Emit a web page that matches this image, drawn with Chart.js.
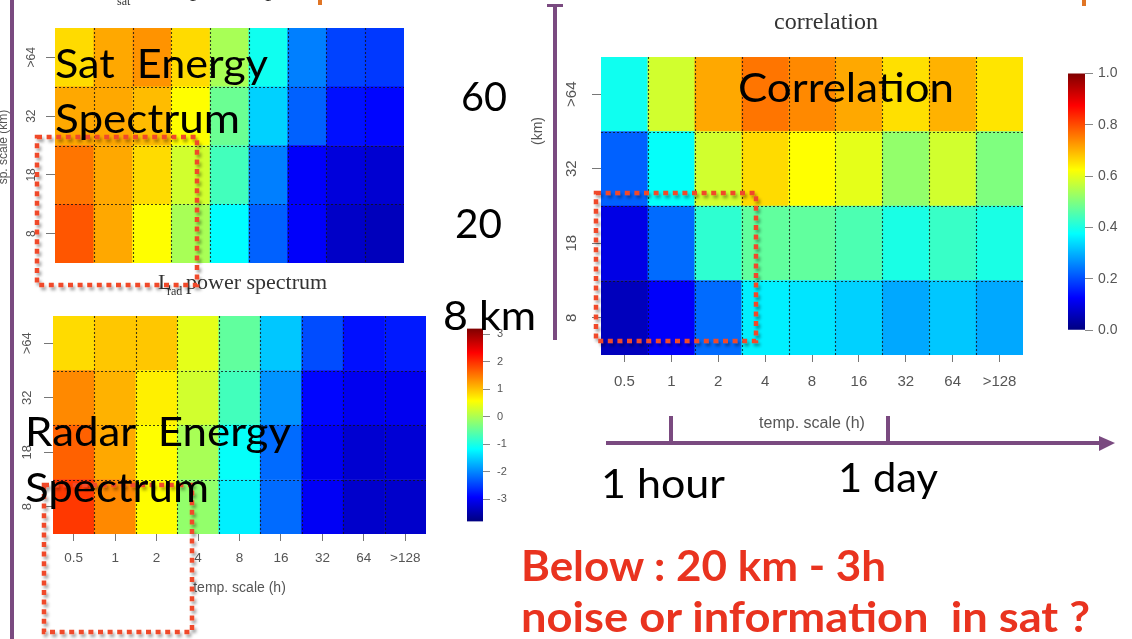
<!DOCTYPE html>
<html><head><meta charset="utf-8">
<script src="https://cdn.jsdelivr.net/npm/chart.js@4.4.1/dist/chart.umd.min.js"></script>
<style>
html,body{margin:0;padding:0;background:#fff}
body{width:1132px;height:639px;overflow:hidden;position:relative}
canvas{position:absolute}
#ov{position:absolute;left:0;top:0}
</style></head><body>
<canvas id="sat" width="415" height="268" style="left:0;top:0"></canvas>
<canvas id="rad" width="440" height="340" style="left:0;top:270px"></canvas>
<canvas id="cor" width="520" height="440" style="left:520px;top:0"></canvas>
<canvas id="cbE" width="70" height="220" style="left:455px;top:315px"></canvas>
<canvas id="cbC" width="77" height="285" style="left:1055px;top:60px"></canvas>
<svg id="ov" width="1132" height="639" xmlns="http://www.w3.org/2000/svg">
  <defs>
    <filter id="sh" x="-10%" y="-10%" width="130%" height="130%">
      <feDropShadow dx="2" dy="3" stdDeviation="1.6" flood-color="#000" flood-opacity="0.35"/>
    </filter>
  </defs>
  <g fill="#7A4A80">
    <rect x="10" y="0" width="4" height="639"/>
    <rect x="553" y="6" width="4" height="334"/>
    <rect x="547" y="4" width="16" height="3"/>
    <rect x="606" y="441" width="496" height="4"/>
    <polygon points="1099,436 1115,443 1099,451"/>
    <rect x="669" y="416" width="4" height="27"/>
    <rect x="886" y="416" width="4" height="27"/>
  </g>
  <g fill="#E07525">
    <rect x="318" y="0" width="4" height="5"/>
    <rect x="1082" y="0" width="4" height="6"/>
  </g>
  <g fill="none" stroke="#F04A2B" stroke-width="4.5" stroke-dasharray="5 4.6" filter="url(#sh)">
    <rect x="37" y="137" width="160" height="148"/>
    <rect x="44" y="485" width="148" height="147"/>
    <rect x="596" y="193" width="160" height="148"/>
  </g>
  <g id="txt" font-family="Lato"></g>
</svg>
<script>
// ---------------- data ----------------
const timeScales  = ['0.5','1','2','4','8','16','32','64','>128'];   // temp. scale (h)
const spaceScales = ['8','18','32','>64'];                            // sp. scale (km), bottom to top
const energyTicks = [-3,-2,-1,0,1,2,3];
const corrTicks   = [0,0.2,0.4,0.6,0.8,1.0];
const energyRange = [-3.8, 3.2];
const corrRange   = [0, 1];

// L_sat power spectrum (log energy)
const sat8  = [1.73, 1.17, 0.58, -0.02, -1.18, -2.26, -2.96, -3.31, -3.38];
const sat18 = [1.52, 1.17, 0.82,  0.26, -0.72, -2.05, -2.96, -3.17, -3.24];
const sat32 = [1.17, 1.17, 1.03,  0.58, -0.44, -1.49, -2.26, -2.82, -2.89];
const sat64 = [0.82, 1.17, 1.31,  0.82, -0.02, -1.07, -2.05, -2.47, -2.54];

// L_rad power spectrum (log energy)
const rad8  = [1.94, 1.38, 0.58, -0.16, -1.28, -2.19, -2.99, -3.28, -3.28];
const rad18 = [1.66, 1.17, 0.58, -0.02, -1.14, -2.19, -3.03, -3.24, -3.21];
const rad32 = [1.38, 1.10, 0.68,  0.26, -0.72, -1.91, -2.89, -3.03, -3.03];
const rad64 = [0.82, 0.96, 0.96,  0.40, -0.51, -1.56, -2.40, -2.82, -2.75];

// correlation
const cor8  = [0.06, 0.12, 0.23, 0.36, 0.35, 0.33, 0.29, 0.32, 0.29];
const cor18 = [0.10, 0.23, 0.42, 0.47, 0.47, 0.45, 0.40, 0.43, 0.40];
const cor32 = [0.22, 0.38, 0.58, 0.66, 0.625, 0.60, 0.52, 0.58, 0.50];
const cor64 = [0.39, 0.58, 0.71, 0.76, 0.74, 0.71, 0.655, 0.70, 0.65];

// ---------------- colour map (jet) ----------------
const JET = [[0,0,127],[0,0,255],[0,127,255],[0,255,255],[127,255,127],[255,255,0],[255,127,0],[255,0,0],[127,0,0]];
function jet(t){
  t = Math.max(0, Math.min(1, t));
  const p = t*8, i = Math.min(7, Math.floor(p)), f = p - i, a = JET[i], b = JET[i+1];
  return 'rgb(' + a.map((v,k)=>Math.round(v + (b[k]-v)*f)).join(',') + ')';
}

const GRAY = '#555';
const AXF = 'Liberation Sans, Arial, sans-serif';

// ---------------- plugin: dotted cell grid, rotated y labels, extra text ----------------
const heatPlugin = {
  id: 'heat',
  afterDatasetsDraw(chart){
    const {ctx, chartArea:a, scales:{x, y}} = chart;
    ctx.save();
    ctx.setLineDash([2,2]);
    ctx.strokeStyle = 'rgba(20,20,20,0.8)';
    ctx.lineWidth = 1.1;
    ctx.beginPath();
    for (let i = 1; i < timeScales.length; i++){
      const px = Math.round((x.getPixelForValue(i-1) + x.getPixelForValue(i))/2) + 0.5;
      ctx.moveTo(px, a.top); ctx.lineTo(px, a.bottom);
    }
    for (let j = 1; j < spaceScales.length; j++){
      const py = Math.round(y.getPixelForValue(j)) + 0.5;
      ctx.moveTo(a.left, py); ctx.lineTo(a.right, py);
    }
    ctx.stroke();
    ctx.restore();
  },
  afterDraw(chart, args, o){
    const {ctx, chartArea:a, scales:{y}} = chart;
    ctx.save();
    ctx.fillStyle = GRAY;
    ctx.font = o.yFont + 'px ' + AXF;
    ctx.textAlign = 'center'; ctx.textBaseline = 'middle';
    spaceScales.forEach((lab, j) => {
      ctx.save();
      ctx.translate(a.left - o.labelDX, y.getPixelForValue(j + 0.5));
      ctx.rotate(-Math.PI/2);
      ctx.fillText(lab, 0, 0);
      ctx.restore();
    });
    (o.texts || []).forEach(t => {
      ctx.save();
      ctx.fillStyle = t.color || '#333';
      ctx.font = t.font;
      ctx.textAlign = t.align || 'left';
      ctx.textBaseline = 'alphabetic';
      ctx.translate(t.x, t.y);
      if (t.rot) ctx.rotate(-Math.PI/2);
      ctx.fillText(t.text, 0, 0);
      ctx.restore();
    });
    ctx.restore();
  }
};

function heatmap(id, rows, range, o){
  const [zmin, zmax] = range;
  return new Chart(document.getElementById(id), {
    type: 'bar',
    data: {
      labels: timeScales,
      datasets: rows.map((vals, r) => ({
        data: vals.map(() => [r, r + 1]),
        backgroundColor: vals.map(v => jet((v - zmin)/(zmax - zmin))),
        borderWidth: 0, borderSkipped: false, grouped: false,
        barPercentage: 1, categoryPercentage: 1
      }))
    },
    options: {
      responsive: false, animation: false, events: [],
      layout: {padding: o.pad},
      plugins: {legend: {display: false}, tooltip: {enabled: false}, heat: o.heat},
      scales: {
        x: {
          offset: true, border: {display: false},
          grid: {drawOnChartArea: false, drawTicks: o.xTicks, tickLength: 7, color: '#777', offset: false},
          ticks: {display: o.xTicks, color: GRAY, font: {family: AXF, size: o.xFont}, padding: o.xPad, maxRotation: 0, autoSkip: false},
          title: {display: o.xTicks, text: 'temp. scale (h)', color: GRAY, font: {family: AXF, size: o.xTitleFont}, padding: {top: 0, bottom: o.xTitlePad}},
          afterFit: s => { s.height = o.xH; }
        },
        y: {
          min: 0, max: spaceScales.length, border: {display: false},
          grid: {drawOnChartArea: false, tickLength: o.yTickLen, color: '#777'},
          ticks: {display: false},
          afterBuildTicks: s => { s.ticks = spaceScales.map((_, i) => ({value: i + 0.5})); },
          afterFit: s => { s.width = o.yW; }
        }
      }
    },
    plugins: [heatPlugin]
  });
}

function colorbar(id, range, ticks, o){
  const [zmin, zmax] = range;
  return new Chart(document.getElementById(id), {
    type: 'bar',
    data: {labels: [''], datasets: [{
      data: [[zmin, zmax]],
      backgroundColor: c => {
        const ch = c.chart, y = ch.scales.y;
        if (!ch.chartArea || !y) return 'rgba(0,0,0,0)';
        const g = ch.ctx.createLinearGradient(0, y.getPixelForValue(zmin), 0, y.getPixelForValue(zmax));
        for (let i = 0; i <= 40; i++) g.addColorStop(i/40, jet(i/40));
        return g;
      },
      borderWidth: 0, barPercentage: 1, categoryPercentage: 1
    }]},
    options: {
      responsive: false, animation: false, events: [],
      layout: {padding: o.pad},
      plugins: {legend: {display: false}, tooltip: {enabled: false}},
      scales: {
        x: {display: false},
        y: {
          position: 'right', min: zmin, max: zmax, border: {display: false},
          grid: {drawOnChartArea: false, tickLength: o.tickLen, color: '#888'},
          ticks: {color: GRAY, font: {family: AXF, size: o.font}, padding: o.tickPad, callback: o.fmt},
          afterBuildTicks: s => { s.ticks = ticks.map(v => ({value: v})); },
          afterFit: s => { s.width = o.yW; }
        }
      }
    }
  });
}

// Satellite spectrum (x axis and title cut off in the slide)
heatmap('sat', [sat8, sat18, sat32, sat64], energyRange, {
  pad: {top: 28, right: 11, left: 0, bottom: 0}, yW: 55, xH: 5, xTicks: false,
  xFont: 12, xPad: 8, xTitleFont: 13, xTitlePad: 10, yTickLen: 9,
  heat: {yFont: 12, labelDX: 23, texts: [
    {text: 'L', x: 108, y: -5, font: '24px Liberation Serif'},
    {text: 'sat', x: 117, y: 5, font: '12px Liberation Serif'},
    {text: 'power spectrum', x: 190, y: -4, font: '24px Liberation Serif'},
    {text: 'sp. scale (km)', x: 7, y: 147, font: '12px ' + AXF, color: GRAY, rot: true, align: 'center'}
  ]}
});

// Radar spectrum
heatmap('rad', [rad8, rad18, rad32, rad64], energyRange, {
  pad: {top: 46, right: 14, left: 0, bottom: 0}, yW: 53, xH: 76, xTicks: true,
  xFont: 13.5, xPad: 9, xTitleFont: 14, xTitlePad: 13, yTickLen: 9,
  heat: {yFont: 13, labelDX: 26, texts: [
    {text: 'L', x: 158, y: 19, font: '22px Liberation Serif'},
    {text: 'rad', x: 167, y: 25, font: '12px Liberation Serif'},
    {text: 'power spectrum', x: 186, y: 19, font: '22px Liberation Serif'}
  ]}
});

// Correlation
heatmap('cor', [cor8, cor18, cor32, cor64], corrRange, {
  pad: {top: 57, right: 17, left: 0, bottom: 0}, yW: 81, xH: 85, xTicks: true,
  xFont: 15, xPad: 11, xTitleFont: 16, xTitlePad: 7, yTickLen: 9,
  heat: {yFont: 15, labelDX: 29, texts: [
    {text: 'correlation', x: 306, y: 29, font: '24px Liberation Serif', align: 'center'},
    {text: '(km)', x: 22, y: 131, font: '14px ' + AXF, color: GRAY, rot: true, align: 'center'}
  ]}
});

colorbar('cbE', energyRange, energyTicks, {
  pad: {left: 12, top: 12, right: 0, bottom: 10}, yW: 42, tickLen: 7, tickPad: 7, font: 11,
  fmt: v => String(v)
});
colorbar('cbC', corrRange, corrTicks, {
  pad: {left: 13, top: 13, right: 0, bottom: 15}, yW: 47, tickLen: 8, tickPad: 5, font: 14,
  fmt: v => v.toFixed(1)
});

// ---------------- slide annotations (real SVG text) ----------------
const slideTexts = [
  {t: 'Sat  Energy',    x: 55,  y: 78,  w: 213, fs: 41},
  {t: 'Spectrum',       x: 55,  y: 133, w: 185, fs: 41},
  {t: '60',             x: 461, y: 111, w: 46,  fs: 40},
  {t: '20',             x: 455, y: 238, w: 47,  fs: 40},
  {t: '8 km',           x: 443, y: 330, w: 93,  fs: 40},
  {t: 'Correlation',    x: 738, y: 102, w: 216, fs: 40},
  {t: 'Radar  Energy',  x: 25,  y: 446, w: 266, fs: 41},
  {t: 'Spectrum',       x: 25,  y: 502, w: 184, fs: 41},
  {t: '1 hour',         x: 601, y: 498, w: 124, fs: 40},
  {t: '1 day',          x: 838, y: 492, w: 100, fs: 40},
  {t: 'Below : 20 km - 3h', x: 521, y: 581, w: 365, fs: 42, bold: true, c: '#E9331F'},
  {t: 'noise or information  in sat ?', x: 521, y: 632, w: 569, fs: 42, bold: true, c: '#E9331F'}
];
const NS = 'http://www.w3.org/2000/svg';
const g = document.getElementById('txt');
slideTexts.forEach(s => {
  const el = document.createElementNS(NS, 'text');
  el.setAttributeNS('http://www.w3.org/XML/1998/namespace', 'xml:space', 'preserve');
  el.setAttribute('style', 'white-space:pre');
  el.setAttribute('x', s.x); el.setAttribute('y', s.y);
  el.setAttribute('font-size', s.fs);
  el.setAttribute('fill', s.c || '#000');
  if (s.bold) el.setAttribute('font-weight', '700');
  el.setAttribute('textLength', s.w);
  el.setAttribute('lengthAdjust', 'spacingAndGlyphs');
  el.textContent = s.t;
  g.appendChild(el);
});
</script>
</body></html>
